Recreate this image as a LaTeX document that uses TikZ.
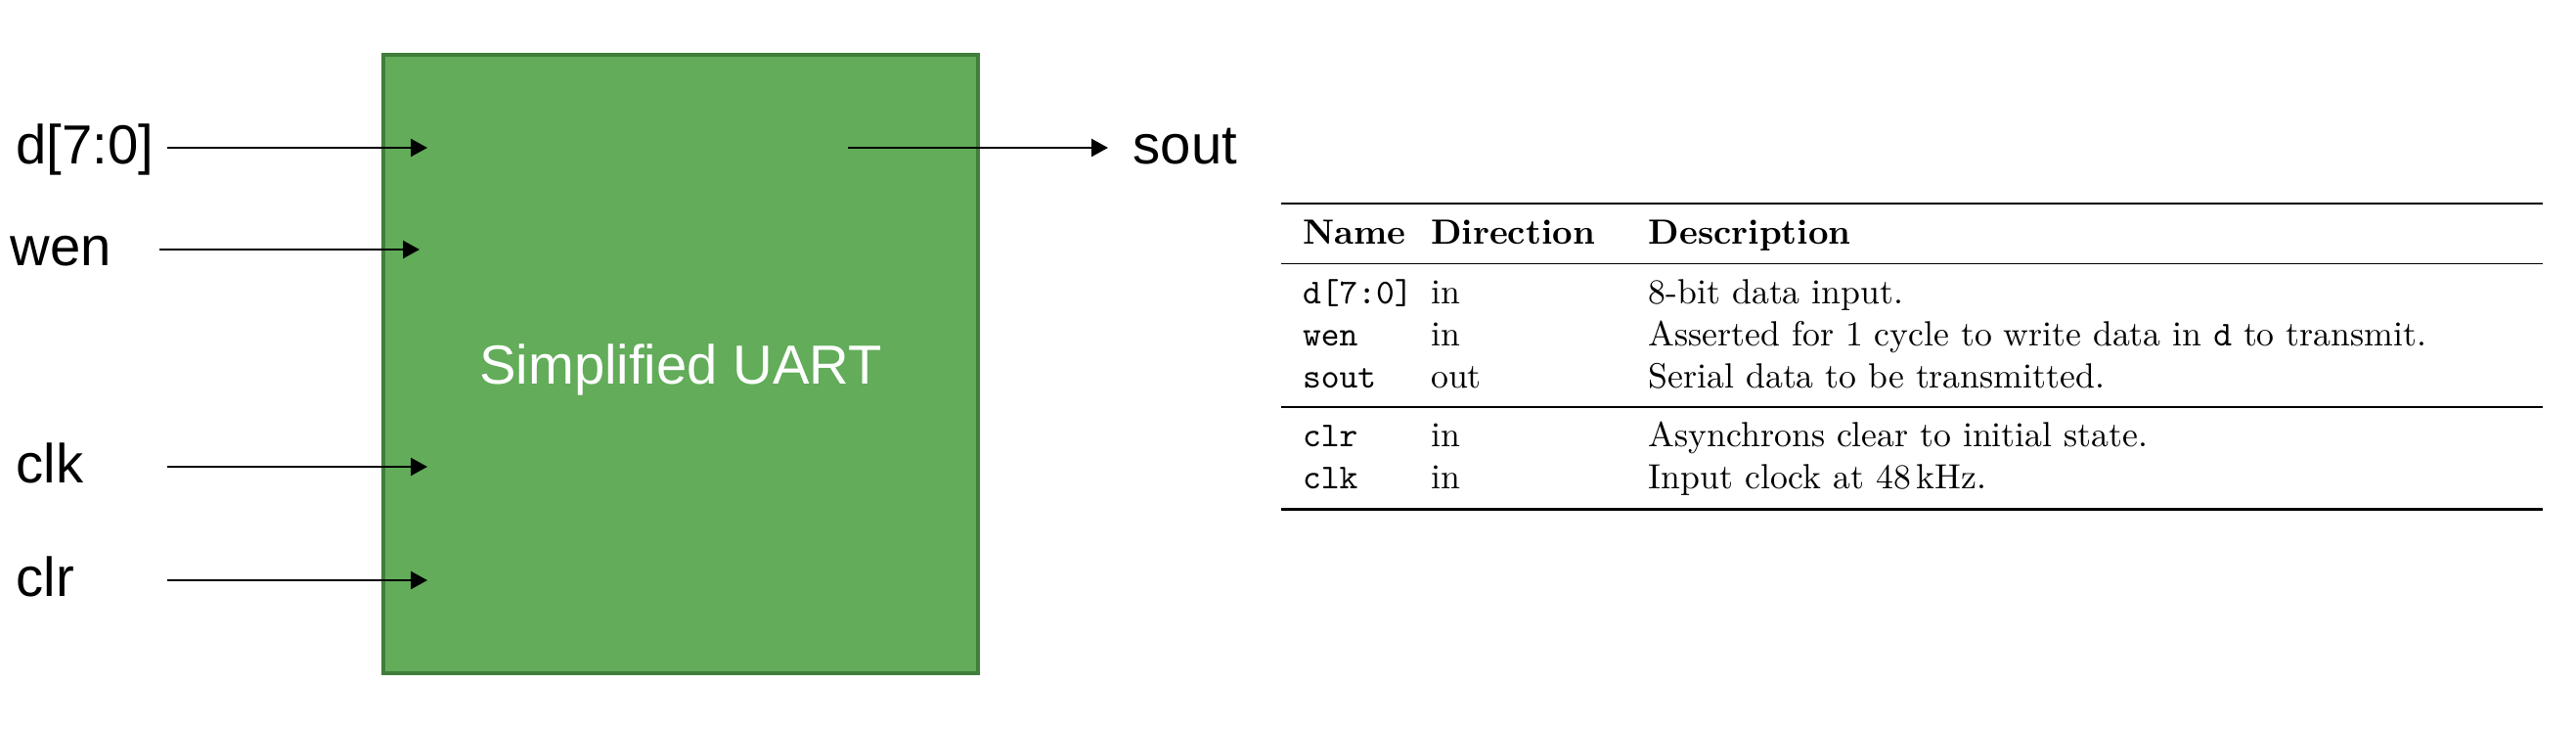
\documentclass[tikz,border=0pt]{standalone}
\usepackage{fontspec}
\usepackage{booktabs}
\usepackage{tikz}
\usetikzlibrary{arrows.meta,positioning}
\newfontfamily\portfont{Liberation Sans}
\definecolor{uartgreen}{RGB}{98,172,90}
\definecolor{uartedge}{RGB}{64,126,58}

\begin{document}
\begin{tikzpicture}[x=1cm,y=1cm,>={Triangle[length=4.8pt,width=5.1pt]},
 block/.style={draw=uartedge,line width=1.15pt,fill=uartgreen,minimum width=6.08cm,minimum height=6.32cm,inner sep=0pt,
  font=\portfont\fontsize{16}{19}\selectfont,text=white,text height=11.4pt,text depth=0pt},
 port/.style={anchor=west,inner sep=0pt,font=\portfont\fontsize{16}{19}\selectfont,text height=11pt,text depth=1.4pt},
 wire/.style={->,line width=0.65pt}]
 \useasboundingbox (0,0) rectangle (26.34,7.44);
 \node[block] (uart) at (6.96,3.72) {Simplified UART};
 \node[port] (dlab) at (0.16,5.93) {d[7:0]};
 \node[port] (wenlab) at (0.10,4.89) {wen};
 \node[port] (clklab) at (0.16,2.67) {clk};
 \node[port] (clrlab) at (0.16,1.51) {clr};
 \node[port] (soutlab) at (11.58,5.93) {sout};
 \coordinate (din) at (1.71,5.93); \coordinate (dpin) at (4.37,5.93);
 \coordinate (wenin) at (1.63,4.89); \coordinate (wenpin) at (4.29,4.89);
 \coordinate (clkin) at (1.71,2.67); \coordinate (clkpin) at (4.37,2.67);
 \coordinate (clrin) at (1.71,1.51); \coordinate (clrpin) at (4.37,1.51);
 \coordinate (soutpin) at (8.67,5.93); \coordinate (soutout) at (11.33,5.93);
 \draw[wire] (din) -- (dpin);
 \draw[wire] (wenin) -- (wenpin);
 \draw[wire] (clkin) -- (clkpin);
 \draw[wire] (clrin) -- (clrpin);
 \draw[wire] (soutpin) -- (soutout);
 \node[anchor=north west,inner sep=0pt,outer sep=0pt,scale=1.017,transform shape] (ports) at (13.10,5.374) {%
  \begin{tabular}{@{\hspace{6.16pt}}p{36.7pt}@{}p{62.3pt}@{}p{255.7pt}@{}}
  \toprule
  \textbf{Name} & \textbf{Direction} & \textbf{Description}\\
  \midrule
  \texttt{d[7:0]} & in & 8-bit data input.\\
  \texttt{wen} & in & Asserted for 1 cycle to write data in \texttt{d} to transmit.\\
  \texttt{sout} & out & Serial data to be transmitted.\\
  \midrule
  \texttt{clr} & in & Asynchrons clear to initial state.\\
  \texttt{clk} & in & Input clock at 48\,kHz.\\
  \bottomrule
  \end{tabular}};
\end{tikzpicture}
\end{document}
